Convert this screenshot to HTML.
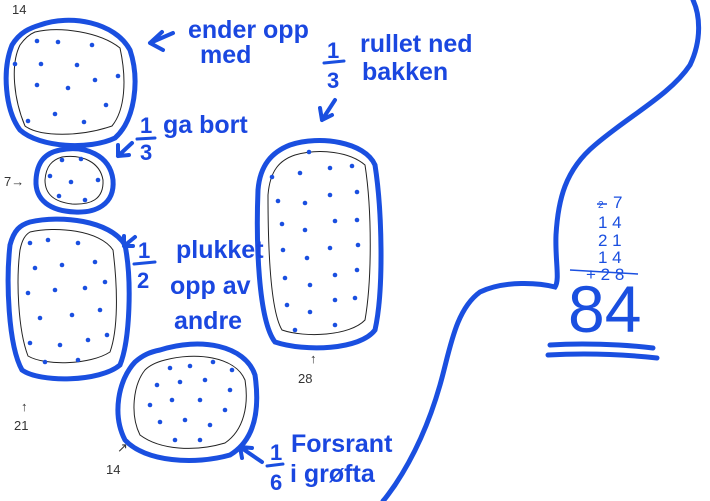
<!DOCTYPE html>
<html><head><style>
body{margin:0;background:#fff;}
svg{display:block}
.t{font-family:"Liberation Sans",sans-serif;font-weight:bold;fill:#1a47e0;}
.p{font-family:"Liberation Sans",sans-serif;fill:#333;}
</style></head><body>
<svg width="710" height="501" viewBox="0 0 710 501" xmlns="http://www.w3.org/2000/svg">
<rect width="710" height="501" fill="#fff"/>
<g fill="none" stroke="#1a4fe0" stroke-width="5" stroke-linecap="round">
<path d="M40 25 C70 14 115 22 130 50 C140 80 135 120 115 138 C90 150 40 148 20 130 C5 110 2 70 12 45 C20 32 30 28 40 25Z"/>
<path d="M60 150 C85 145 110 155 113 180 C115 205 95 213 75 212 C50 211 35 200 36 180 C37 162 45 153 60 150Z"/>
<path d="M30 222 C60 215 110 220 125 245 C132 280 130 340 120 365 C100 382 40 383 22 370 C8 345 6 280 10 245 C14 230 20 225 30 222Z"/>
<path d="M290 145 C320 135 365 142 375 165 C382 210 384 290 375 330 C360 350 305 352 275 342 C258 320 256 240 258 190 C260 165 272 152 290 145Z"/>
<path d="M160 350 C200 337 245 345 255 375 C260 410 255 440 230 455 C195 465 145 462 125 440 C112 415 118 380 135 362 C143 355 150 352 160 350Z"/>
<path d="M693 0 C700 15 702 40 690 65 C670 95 630 115 595 145 C565 170 558 200 556 235 C555 260 560 280 555 287 C540 283 505 280 480 292 C455 310 450 350 440 385 C430 420 415 455 395 485 C390 492 386 498 383 501"/>
<path d="M550 345 C580 343 620 344 653 348"/>
<path d="M548 355 C585 353 620 354 657 358"/>
</g>
<g fill="none" stroke="#222" stroke-width="1">
<path d="M35 32 C60 26 100 32 120 48 C127 80 125 110 112 126 C80 137 40 137 25 126 C14 100 10 65 20 45 C25 38 30 34 35 32Z"/>
<path d="M62 157 C82 154 100 162 103 180 C104 200 90 205 72 204 C55 202 45 195 45 180 C46 166 52 160 62 157Z"/>
<path d="M30 232 C55 226 100 230 113 250 C118 290 118 330 110 352 C90 365 45 366 28 356 C18 330 16 280 20 250 C22 240 25 235 30 232Z"/>
<path d="M295 155 C320 148 350 152 365 165 C372 210 372 280 365 320 C350 336 305 338 282 330 C270 310 268 245 268 195 C270 170 280 160 295 155Z"/>
<path d="M165 360 C195 352 235 356 245 380 C249 405 244 430 225 443 C195 452 160 450 140 435 C130 415 133 385 145 370 C150 365 157 362 165 360Z"/>
</g>
<g fill="#1a4fe0">
<circle cx="37" cy="41" r="2.3"/><circle cx="58" cy="42" r="2.3"/><circle cx="92" cy="45" r="2.3"/>
<circle cx="15" cy="64" r="2.3"/><circle cx="41" cy="64" r="2.3"/><circle cx="77" cy="65" r="2.3"/>
<circle cx="37" cy="85" r="2.3"/><circle cx="68" cy="88" r="2.3"/><circle cx="95" cy="80" r="2.3"/><circle cx="118" cy="76" r="2.3"/>
<circle cx="106" cy="105" r="2.3"/><circle cx="28" cy="121" r="2.3"/><circle cx="55" cy="114" r="2.3"/><circle cx="84" cy="122" r="2.3"/>
<circle cx="62" cy="160" r="2.3"/><circle cx="81" cy="159" r="2.3"/><circle cx="50" cy="176" r="2.3"/><circle cx="71" cy="182" r="2.3"/><circle cx="98" cy="180" r="2.3"/><circle cx="59" cy="196" r="2.3"/><circle cx="85" cy="200" r="2.3"/>
<circle cx="30" cy="243" r="2.3"/><circle cx="48" cy="240" r="2.3"/><circle cx="78" cy="243" r="2.3"/>
<circle cx="35" cy="268" r="2.3"/><circle cx="62" cy="265" r="2.3"/><circle cx="95" cy="262" r="2.3"/>
<circle cx="28" cy="293" r="2.3"/><circle cx="55" cy="290" r="2.3"/><circle cx="85" cy="288" r="2.3"/><circle cx="105" cy="282" r="2.3"/>
<circle cx="40" cy="318" r="2.3"/><circle cx="72" cy="315" r="2.3"/><circle cx="100" cy="310" r="2.3"/>
<circle cx="30" cy="343" r="2.3"/><circle cx="60" cy="345" r="2.3"/><circle cx="88" cy="340" r="2.3"/><circle cx="107" cy="335" r="2.3"/>
<circle cx="45" cy="362" r="2.3"/><circle cx="78" cy="360" r="2.3"/>
<circle cx="309" cy="152" r="2.3"/><circle cx="330" cy="168" r="2.3"/><circle cx="352" cy="166" r="2.3"/>
<circle cx="272" cy="177" r="2.3"/><circle cx="300" cy="173" r="2.3"/><circle cx="330" cy="195" r="2.3"/><circle cx="357" cy="192" r="2.3"/>
<circle cx="278" cy="201" r="2.3"/><circle cx="305" cy="203" r="2.3"/><circle cx="335" cy="221" r="2.3"/><circle cx="357" cy="220" r="2.3"/>
<circle cx="282" cy="224" r="2.3"/><circle cx="305" cy="230" r="2.3"/><circle cx="330" cy="248" r="2.3"/><circle cx="358" cy="245" r="2.3"/>
<circle cx="283" cy="250" r="2.3"/><circle cx="307" cy="258" r="2.3"/><circle cx="335" cy="275" r="2.3"/><circle cx="357" cy="270" r="2.3"/>
<circle cx="285" cy="278" r="2.3"/><circle cx="310" cy="285" r="2.3"/><circle cx="335" cy="300" r="2.3"/><circle cx="355" cy="298" r="2.3"/>
<circle cx="287" cy="305" r="2.3"/><circle cx="310" cy="312" r="2.3"/><circle cx="335" cy="325" r="2.3"/><circle cx="295" cy="330" r="2.3"/>
<circle cx="170" cy="368" r="2.3"/><circle cx="190" cy="366" r="2.3"/><circle cx="213" cy="362" r="2.3"/><circle cx="232" cy="370" r="2.3"/>
<circle cx="157" cy="385" r="2.3"/><circle cx="180" cy="382" r="2.3"/><circle cx="205" cy="380" r="2.3"/><circle cx="230" cy="390" r="2.3"/>
<circle cx="150" cy="405" r="2.3"/><circle cx="172" cy="400" r="2.3"/><circle cx="200" cy="400" r="2.3"/><circle cx="225" cy="410" r="2.3"/>
<circle cx="160" cy="422" r="2.3"/><circle cx="185" cy="420" r="2.3"/><circle cx="210" cy="425" r="2.3"/><circle cx="175" cy="440" r="2.3"/><circle cx="200" cy="440" r="2.3"/>
</g>
<g fill="none" stroke="#1a4fe0" stroke-width="4" stroke-linecap="round" stroke-linejoin="round">
<path d="M173 33 L150 43 M150 43 L162 32 M150 43 L163 50"/>
<path d="M132 143 L118 156 M118 156 L118 145 M118 156 L129 155"/>
<path d="M335 100 L322 120 M322 120 L320 108 M322 120 L332 115"/>
<path d="M135 237 L124 246 M124 246 L124 236 M124 246 L133 246"/>
<path d="M262 462 L240 447 M240 447 L252 448 M240 447 L242 458"/>
</g>
<g fill="none" stroke="#1a4fe0" stroke-width="3" stroke-linecap="round">
<path d="M324 63 L344 61"/><path d="M137 139 L155 138"/><path d="M134 264 L155 262"/><path d="M267 466 L283 464"/>
</g>
<g class="t" font-size="25">
<text x="188" y="38">ender opp</text>
<text x="200" y="63">med</text>
<text x="360" y="52">rullet ned</text>
<text x="362" y="80">bakken</text>
<text x="163" y="133">ga bort</text>
<text x="176" y="258">plukket</text>
<text x="170" y="294">opp av</text>
<text x="174" y="329">andre</text>
<text x="291" y="452">Forsrant</text>
<text x="290" y="482">i grøfta</text>
</g>
<g class="t" font-size="22">
<text x="327" y="58">1</text><text x="327" y="88">3</text>
<text x="140" y="133">1</text><text x="140" y="160">3</text>
<text x="138" y="258">1</text><text x="137" y="288">2</text>
<text x="270" y="460">1</text><text x="270" y="490">6</text>
</g>
<g class="p" font-size="13">
<text x="12" y="14">14</text><text x="4" y="186">7→</text>
<text x="298" y="383">28</text><text x="14" y="430">21</text><text x="106" y="474">14</text>
<text x="21" y="411">↑</text><text x="310" y="363">↑</text><text x="117" y="452">↗</text>
</g>
<g fill="#1a4fe0" font-family="Liberation Sans,sans-serif">
<text x="598" y="208" font-size="10">2</text><text x="613" y="208" font-size="17">7</text>
<text x="598" y="228" font-size="17">1 4</text>
<text x="598" y="246" font-size="17">2 1</text>
<text x="598" y="263" font-size="17">1 4</text>
<text x="586" y="280" font-size="17">+ 2 8</text>
<text x="568" y="332" font-size="66">84</text>
</g>
<path d="M570 270 L638 274" stroke="#1a4fe0" stroke-width="1.5"/>
<path d="M597 204 L607 204" stroke="#1a4fe0" stroke-width="1.5"/>
</svg>
</body></html>
